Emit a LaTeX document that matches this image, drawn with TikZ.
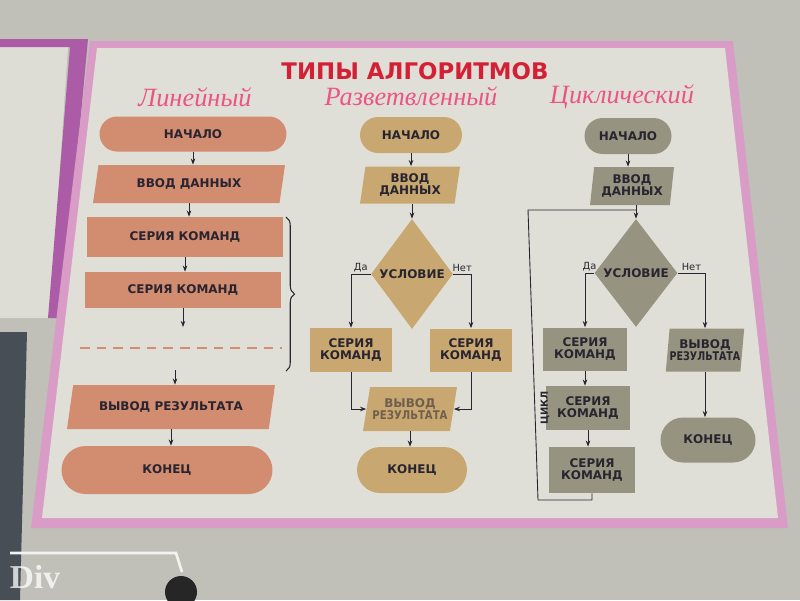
\documentclass[tikz,border=0pt]{standalone}
\usepackage{fontspec}
\setmainfont{DejaVu Sans}
\newfontfamily\handfont{Liberation Serif}
\newfontfamily\markfont{Liberation Serif}
\usetikzlibrary{shapes.geometric,shapes.misc,decorations.pathreplacing,arrows.meta}

\definecolor{wall}{RGB}{192,192,185}
\definecolor{paper}{RGB}{223,223,216}
\definecolor{frame}{RGB}{216,156,198}
\definecolor{oldframe}{RGB}{172,92,166}
\definecolor{device}{RGB}{72,78,86}
\definecolor{lin}{RGB}{210,140,112}
\definecolor{razv}{RGB}{200,168,112}
\definecolor{cikl}{RGB}{150,148,128}
\definecolor{titlered}{RGB}{212,32,52}
\definecolor{hand}{RGB}{236,84,132}
\definecolor{ink}{RGB}{40,36,48}

\begin{document}
\begin{tikzpicture}[x=0.02cm,y=-0.02cm,
  card/.style={font=\fontsize{6.8}{7.2}\selectfont\bfseries, text=ink, align=center, inner sep=0pt},
  term/.style={card, rounded rectangle},
  io/.style={card, trapezium, trapezium stretches body, trapezium left angle=#1, trapezium right angle=180-#1},
  proc/.style={card, rectangle},
  cond/.style={card, diamond},
  head/.style={font=\handfont\itshape\fontsize{15}{16}\selectfont, text=hand, inner sep=0pt},
  lbl/.style={font=\fontsize{5.6}{6}\selectfont, text=ink, inner sep=1pt},
  arr/.style={draw=ink, line width=0.5pt, -{Stealth[length=3.5pt,width=2.6pt]}},
  link/.style={draw=ink, line width=0.5pt}]
\useasboundingbox (0,0) rectangle (800,600);
\fill[wall] (0,0) rectangle (800,600);
\fill[paper!92!wall] (0,47) -- (68,47) -- (50,318) -- (0,318) -- cycle;
\fill[oldframe] (0,39) -- (88,39) -- (62,318) -- (48,318) -- (70,47) -- (0,47) -- cycle;
\fill[device] (0,332) -- (27,332) -- (20,600) -- (0,600) -- cycle;
\draw[white!80!wall, line width=1.5pt] (10,553) -- (176,553) -- (182,572);
\fill[black!85] (181,592) circle (16);
\fill[frame] (90,41) -- (733,41) -- (788,528) -- (31,528) -- cycle;
\fill[paper] (97,48) -- (725,48) -- (778,518) -- (42,518) -- cycle;

\node[font=\fontsize{13}{14}\selectfont\bfseries, text=titlered, inner sep=0pt] (title) at (415,71) {ТИПЫ АЛГОРИТМОВ};
\node[head] (hlin) at (195,97) {Линейный};
\node[head] (hrazv) at (411,96) {Разветвленный};
\node[head] (hcikl) at (622,97) {Циклический};

\node[term, fill=lin, minimum width=3.74cm, minimum height=0.70cm] (s1) at (193,134) {НАЧАЛО};
\node[io=63, fill=lin, minimum width=3.84cm, minimum height=0.76cm] (in1) at (189,184) {ВВОД ДАННЫХ};
\node[proc, fill=lin, minimum width=3.92cm, minimum height=0.80cm] (ser1a) at (185,237) {СЕРИЯ КОМАНД};
\node[proc, fill=lin, minimum width=3.92cm, minimum height=0.72cm] (ser1b) at (183,290) {СЕРИЯ КОМАНД};
\node[io=60, fill=lin, minimum width=4.16cm, minimum height=0.88cm] (out1) at (171,407) {ВЫВОД РЕЗУЛЬТАТА};
\node[term, fill=lin, minimum width=4.22cm, minimum height=0.96cm] (e1) at (167,470) {КОНЕЦ};
\coordinate (gap1) at (183,327);
\coordinate (gap2) at (175,370);
\coordinate (dl1) at (80,348);
\coordinate (dl2) at (282,348);
\coordinate (br1) at (286,217);
\coordinate (br2) at (286,371);

\node[term, fill=razv, minimum width=2.04cm, minimum height=0.72cm] (s2) at (411,135) {НАЧАЛО};
\node[io=77, fill=razv, minimum width=2.00cm, minimum height=0.74cm] (in2) at (410,185) {ВВОД\\ДАННЫХ};
\node[cond, fill=razv, minimum width=1.64cm, minimum height=2.20cm] (c2) at (412,274) {УСЛОВИЕ};
\node[proc, fill=razv, minimum width=1.66cm, minimum height=0.88cm] (ser2l) at (351,350) {СЕРИЯ\\КОМАНД};
\node[proc, fill=razv, minimum width=1.64cm, minimum height=0.86cm] (ser2r) at (471,350) {СЕРИЯ\\КОМАНД};
\node[io=72, fill=razv, text=ink!55!razv, minimum width=1.88cm, minimum height=0.88cm] (out2) at (410,409) {ВЫВОД\\\scalebox{0.85}[1]{РЕЗУЛЬТАТА}};
\node[term, fill=razv, minimum width=2.20cm, minimum height=0.92cm] (e2) at (412,470) {КОНЕЦ};

\node[term, fill=cikl, minimum width=1.74cm, minimum height=0.72cm] (s3) at (628,136) {НАЧАЛО};
\node[io=80, fill=cikl, minimum width=1.68cm, minimum height=0.76cm] (in3) at (632,186) {ВВОД\\ДАННЫХ};
\node[cond, fill=cikl, minimum width=1.66cm, minimum height=2.16cm] (c3) at (636,273) {УСЛОВИЕ};
\node[proc, fill=cikl, minimum width=1.68cm, minimum height=0.86cm] (ser3a) at (585,349) {СЕРИЯ\\КОМАНД};
\node[proc, fill=cikl, minimum width=1.68cm, minimum height=0.88cm] (ser3b) at (588,408) {СЕРИЯ\\КОМАНД};
\node[proc, fill=cikl, minimum width=1.72cm, minimum height=0.92cm] (ser3c) at (592,470) {СЕРИЯ\\КОМАНД};
\node[io=80, fill=cikl, minimum width=1.52cm, minimum height=0.86cm] (out3) at (705,350) {ВЫВОД\\\scalebox{0.8}[1]{РЕЗУЛЬТАТА}};
\node[term, fill=cikl, minimum width=1.90cm, minimum height=0.90cm] (e3) at (708,440) {КОНЕЦ};
\coordinate (lp1) at (538,500);
\coordinate (lp2) at (528,210);
\node[lbl, font=\fontsize{5.6}{6}\selectfont\bfseries, rotate=90] (cyc) at (545,408) {ЦИКЛ};

\path[arr] (s1.south) -- (s1.south |- in1.north);
\path[arr] (in1.south) -- (in1.south |- ser1a.north);
\path[arr] (ser1a.south) -- (ser1a.south |- ser1b.north);
\path[arr] (ser1b.south) -- (gap1);
\draw[lin, line width=1.3pt, dash pattern=on 5.5pt off 4pt] (dl1) -- (dl2);
\path[arr] (gap2) -- (gap2 |- out1.north);
\path[arr] (out1.south) -- (out1.south |- e1.north);
\draw[ink, line width=0.6pt, decorate, decoration={brace, amplitude=0.17cm}] (br1) -- (br2);

\path[arr] (s2.south) -- (s2.south |- in2.north);
\path[arr] (c2.north |- in2.south) -- (c2.north);
\path[arr] (c2.west) -| node[lbl, pos=.25, above] {Да} (ser2l.north);
\path[arr] (c2.east) -| node[lbl, pos=.25, above] {Нет} (ser2r.north);
\path[arr] (ser2l.south) |- (out2.west);
\path[arr] (ser2r.south) |- (out2.east);
\path[arr] (out2.south) -- (out2.south |- e2.north);

\path[arr] (s3.south) -- (s3.south |- in3.north);
\path[arr] (c3.north |- in3.south) -- (c3.north);
\path[arr] (c3.west) -| node[lbl, pos=.25, above] {Да} (ser3a.north);
\path[arr] (c3.east) -| node[lbl, pos=.25, above] {Нет} (out3.north);
\path[arr] (ser3a.south) -- (ser3a.south |- ser3b.north);
\path[arr] (ser3b.south) -- (ser3b.south |- ser3c.north);
\path[arr] (out3.south) -- (out3.south |- e3.north);
\path[link] (ser3c.south) |- (lp1) -- (lp2) -- (lp2 -| c3.north);

\node[font=\markfont\bfseries\fontsize{19}{20}\selectfont, text=white, opacity=0.75] (mark) at (35,577) {Div};
\end{tikzpicture}
\end{document}
